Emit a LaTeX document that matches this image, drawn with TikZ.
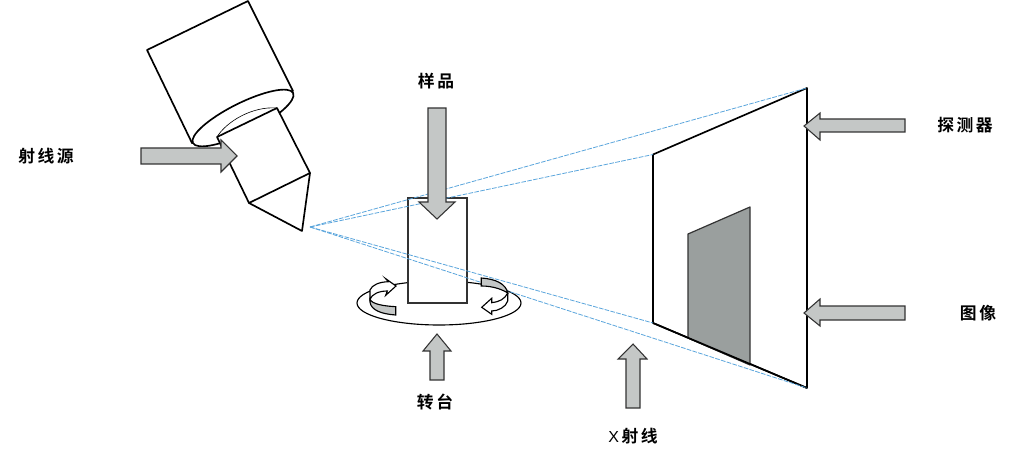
\documentclass[tikz,border=0pt]{standalone}
\usepackage{fontspec}
\usetikzlibrary{shapes.geometric}
\newfontfamily\cjkb[LetterSpace=15]{Noto Sans CJK SC Bold}
\setmainfont{Liberation Sans}
\definecolor{arrowgray}{HTML}{C4C7C6}
\definecolor{imggray}{HTML}{9A9F9E}
\definecolor{rayblue}{HTML}{5AA5DC}
\definecolor{edge}{HTML}{333333}
\tikzset{
  x=0.75pt,y=-0.75pt,
  solid/.style={draw=black,line width=1.25pt,line join=round,fill=white},
  blockarrow/.style={draw=edge,line width=0.8pt,fill=arrowgray,line join=miter},
  ribbon/.style={draw=black,line width=0.85pt,fill=white,line join=miter},
  ribbongray/.style={draw=black,line width=0.85pt,fill=arrowgray,line join=miter},
  ray/.style={draw=rayblue,line width=0.6pt,dash pattern=on 3.5pt off 1pt},
  lab/.style={inner sep=0pt,font=\cjkb\fontsize{12.6}{15}\selectfont,text=black}
}
\begin{document}
\begin{tikzpicture}
\useasboundingbox (0,0) rectangle (1016,452);
% named corners
\coordinate (src) at (310,227);
\coordinate (dTL) at (653,154.5);
\coordinate (dTR) at (807,88);
\coordinate (dBR) at (807,388);
\coordinate (dBL) at (653,323);
% source head
\path[solid] (147,50) -- (248,1) -- (293,91) -- (192,143) -- cycle;
\node[ellipse,rotate=26.5,draw=black,line width=1.25pt,fill=white,inner sep=0pt,outer sep=0pt,minimum width=84pt,minimum height=22.5pt] (rim) at (243,118) {};
\path[solid] (249,203) -- (302,231) -- (310,173);
\path[solid] (217,137) -- (277,108) -- (310,173) -- (249,203) -- cycle;
\draw[black,line width=0.45pt] (217,137) .. controls (226,122) and (252,106) .. (277,108);
% turntable and sample
\node[ellipse,draw=black,line width=0.85pt,fill=white,inner sep=0pt,outer sep=0pt,minimum width=123pt,minimum height=33pt] (table) at (439,303) {};
\node[rectangle,draw=edge,line width=1pt,fill=white,inner sep=0pt,outer sep=0pt,minimum width=44.25pt,minimum height=78.75pt] (sample) at (437.5,250.5) {};
% detector
\path[solid] (dTL) -- (dTR) -- (dBR) -- (dBL) -- cycle;
\draw[draw=edge,line width=0.9pt,fill=imggray,line join=round] (688,234) -- (750,207) -- (750,365) -- (688,338) -- cycle;
\draw[black,line width=1.25pt] (dBL) -- (dBR);
% rays
\draw[ray] (src) -- (dTR);
\draw[ray] (src) -- (dTL);
\draw[ray] (src) -- (dBL);
\draw[ray] (src) -- (dBR);
% rotation arrows
\path[ribbongray] (370,299.3) .. controls (372,304) and (383,306) .. (395.7,306.7) -- (395.7,315) .. controls (381,314) and (371,310) .. (370,302) -- cycle;
\path[ribbon] (370,299.3) -- (370,290) .. controls (372,285) and (379,282) .. (388.3,281.7) -- (385.7,278.7) -- (396,286) -- (385.7,295.3) -- (387.3,291) .. controls (379,291) and (372,294) .. (370,299.3) -- cycle;
\path[ribbongray] (481.3,278) .. controls (496,279) and (506,284) .. (507.7,293) .. controls (503,290) and (494,286) .. (481.3,286) -- cycle;
\path[ribbon] (507.7,293) -- (507.7,301) .. controls (506,307) and (498,311) .. (491.7,311) -- (491.7,314.3) -- (481.7,307.3) -- (491.7,298.3) -- (491.7,302.7) .. controls (499,302) and (505,299) .. (507.7,293) -- cycle;
% block arrows
\path[blockarrow] (141,148) -- (221,148) -- (221,140) -- (237,156) -- (221,172) -- (221,164) -- (141,164) -- cycle;
\path[blockarrow] (428,108) -- (446,108) -- (446,202) -- (455,202) -- (437,219) -- (419,202) -- (428,202) -- cycle;
\path[blockarrow] (430,380) -- (430,351) -- (423,351) -- (437,334) -- (451,351) -- (444,351) -- (444,380) -- cycle;
\path[blockarrow] (626,408) -- (626,359) -- (618,359) -- (633,344) -- (647,359) -- (640,359) -- (640,408) -- cycle;
\path[blockarrow] (905,119) -- (820,119) -- (820,113) -- (804,126) -- (820,140) -- (820,132) -- (905,132) -- cycle;
\path[blockarrow] (905,306) -- (820,306) -- (820,299) -- (804,313) -- (820,326) -- (820,320) -- (905,320) -- cycle;
% labels
\node[lab] (l1) at (46,156) {射线源};
\node[lab] (l2) at (436,81) {样品};
\node[lab] (l3) at (965,125) {探测器};
\node[lab] (l4) at (978,313) {图像};
\node[lab] (l5) at (435,402) {转台};
\node[lab] (l6) at (633,436) {{\rmfamily\fontsize{12}{14}\selectfont X\,}射线};
\end{tikzpicture}
\end{document}
